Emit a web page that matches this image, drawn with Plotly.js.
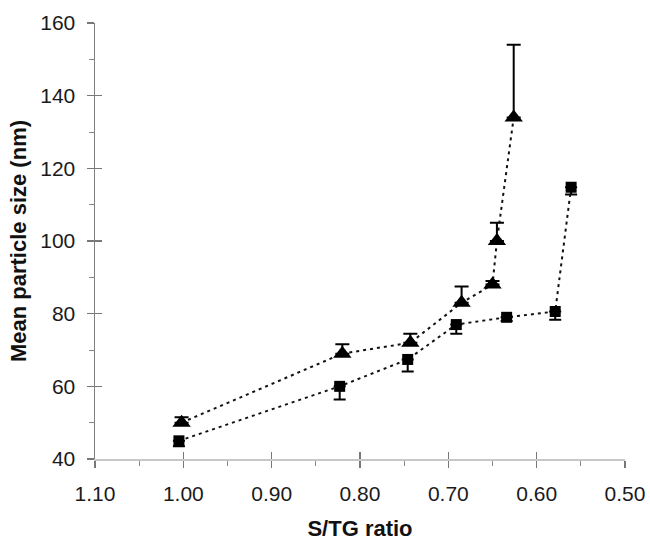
<!DOCTYPE html>
<html>
<head>
<meta charset="utf-8">
<script src="https://cdn.plot.ly/plotly-3.0.1.min.js"></script>
<style>html,body{margin:0;padding:0;background:#fff}#chart{width:650px;height:541px}</style>
</head>
<body>
<div id="chart"></div>
<script>
// S/TG ratio vs mean particle size (nm)
const triX = [1.002, 0.820, 0.743, 0.685, 0.650, 0.645, 0.626];
const triY = [50, 69, 72, 83, 88, 100, 134];
const triErrPlus = [1.5, 2.6, 2.5, 4.5, 1.0, 5.0, 20];

const sqX = [1.005, 0.823, 0.746, 0.691, 0.634, 0.579, 0.561];
const sqY = [45, 60, 67.4, 77, 79, 80.6, 114.8];
const sqErrMinus = [1.5, 3.6, 3.3, 2.5, 1.0, 2.3, 2.0];

const xTicks = [1.10, 1.00, 0.90, 0.80, 0.70, 0.60, 0.50];
const yTicks = [40, 60, 80, 100, 120, 140, 160];

const tickFont = {family: 'Liberation Sans, Arial, sans-serif', size: 21, color: '#1a1a1a'};
const titleFont = {family: 'Liberation Sans, Arial, sans-serif', size: 22, color: '#111', weight: 'bold'};

const lineStyle = {color: '#111', width: 2, dash: '3px,4px'};

const traces = [
  {
    x: triX, y: triY, type: 'scatter', mode: 'lines+markers',
    line: lineStyle,
    marker: {symbol: 'triangle-up', size: 16, color: '#000'},
    error_y: {type: 'data', symmetric: false, array: triErrPlus,
              arrayminus: triErrPlus.map(() => 0), color: '#000', thickness: 2, width: 7},
    showlegend: false, hoverinfo: 'x+y'
  },
  {
    x: sqX, y: sqY, type: 'scatter', mode: 'lines+markers',
    line: lineStyle,
    marker: {symbol: 'square', size: 11, color: '#000'},
    error_y: {type: 'data', symmetric: false, array: sqErrMinus.map(() => 0),
              arrayminus: sqErrMinus, color: '#000', thickness: 2, width: 6},
    showlegend: false, hoverinfo: 'x+y'
  },
  {x: [], y: [], xaxis: 'x2', yaxis: 'y2', type: 'scatter', mode: 'markers', showlegend: false}
];

const layout = {
  width: 650, height: 541,
  margin: {l: 95, r: 25, t: 23, b: 82},
  paper_bgcolor: '#fff', plot_bgcolor: '#fff',
  showlegend: false,
  xaxis: {
    range: [1.10, 0.50], tickvals: xTicks, ticktext: xTicks.map(v => v.toFixed(2)),
    showgrid: false, zeroline: false, showline: true, linecolor: '#c8c8c8', linewidth: 1.5,
    ticks: 'outside', ticklen: 7, tickwidth: 1.2, tickcolor: '#777',
    minor: {ticks: 'outside', ticklen: 5, tickwidth: 1, tickcolor: '#888', dtick: 0.05, tick0: 0.5},
    tickfont: tickFont, ticklabelstandoff: 8,
    title: {text: 'S/TG ratio', font: titleFont, standoff: 26}
  },
  yaxis: {
    range: [40, 160], tickvals: yTicks,
    showgrid: false, zeroline: false, showline: true, linecolor: '#808080', linewidth: 1.5,
    ticks: 'outside', ticklen: 7, tickwidth: 1.2, tickcolor: '#777',
    minor: {ticks: 'outside', ticklen: 5, tickwidth: 1, tickcolor: '#888', dtick: 10, tick0: 40},
    tickfont: tickFont, ticklabelstandoff: 7,
    title: {text: 'Mean particle size (nm)', font: titleFont, standoff: 7}
  },
  xaxis2: {
    overlaying: 'x', anchor: 'y2', range: [1.10, 0.50], tickvals: xTicks,
    showticklabels: false, showgrid: false, zeroline: false, showline: false,
    ticks: 'inside', ticklen: 7, tickwidth: 1.2, tickcolor: '#777'
  },
  yaxis2: {
    overlaying: 'y', anchor: 'x2', side: 'left', range: [40, 160], tickvals: yTicks,
    showticklabels: false, showgrid: false, zeroline: false, showline: false,
    ticks: 'inside', ticklen: 7, tickwidth: 1.2, tickcolor: '#777'
  }
};

Plotly.newPlot('chart', traces, layout, {displayModeBar: false, staticPlot: true});
</script>
</body>
</html>
